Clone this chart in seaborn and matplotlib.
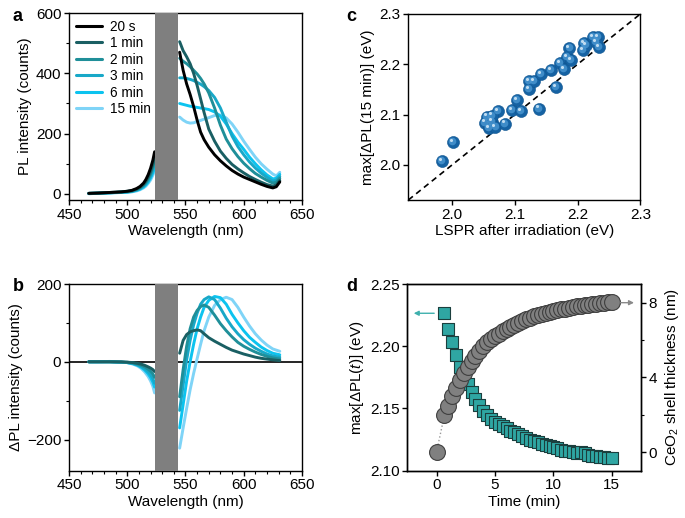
import numpy as np
import pandas as pd
import matplotlib
matplotlib.use("Agg")
import matplotlib.pyplot as plt
from matplotlib.transforms import ScaledTranslation
import seaborn as sns

sns.set_theme(style="ticks")
plt.rcParams['font.family'] = ['Liberation Sans', 'DejaVu Sans']
plt.rcParams['mathtext.fontset'] = 'custom'
plt.rcParams['mathtext.rm'] = 'Liberation Sans'
plt.rcParams['mathtext.it'] = 'Liberation Sans:italic'
plt.rcParams['axes.linewidth'] = 1.0
plt.rcParams['axes.edgecolor'] = 'black'
for k in ['text.color', 'axes.labelcolor', 'xtick.color', 'ytick.color']:
    plt.rcParams[k] = 'black'

# ---------------- data ----------------
time_labels = ["20 s", "1 min", "2 min", "3 min", "6 min", "15 min"]
line_colors = ["#000000", "#1a5f63", "#1f8f99", "#18a8c8", "#0cc3ef", "#7fd4f7"]

# panel a: PL spectra (left of the notch, right of the notch)
wl_a_left = [467, 475, 485, 495, 500, 504, 508, 511, 514, 516, 518, 520, 522, 523.5]
pl_left = {
    "20 s":   [2, 3, 5, 7, 9, 12, 18, 25, 36, 48, 64, 85, 112, 140],
    "1 min":  [2, 3, 5, 7, 9, 11, 16, 22, 32, 42, 56, 74, 98, 122],
    "2 min":  [2, 3, 4, 6, 8, 10, 15, 20, 29, 38, 50, 66, 88, 110],
    "3 min":  [2, 3, 4, 6, 7, 9, 13, 18, 26, 34, 45, 60, 80, 98],
    "6 min":  [1, 2, 4, 5, 6, 8, 12, 16, 23, 30, 40, 53, 70, 86],
    "15 min": [1, 2, 3, 5, 6, 7, 10, 14, 20, 26, 35, 46, 62, 76],
}
wl_a_right = [545, 548, 551, 554, 557, 560, 563, 566, 570, 575, 580, 585,
              590, 595, 600, 605, 610, 615, 620, 625, 628, 631]
pl_right = {
    "20 s":   [470, 410, 365, 330, 290, 245, 205, 180, 155, 130, 110, 93,
               78, 66, 56, 48, 40, 32, 25, 20, 24, 40],
    "1 min":  [505, 475, 455, 432, 400, 360, 315, 270, 215, 175, 142, 118,
               98, 83, 70, 58, 48, 39, 31, 26, 30, 45],
    "2 min":  [450, 440, 432, 422, 410, 398, 383, 365, 335, 285, 228, 182,
               150, 124, 102, 84, 68, 56, 45, 36, 39, 52],
    "3 min":  [385, 385, 383, 380, 376, 370, 364, 356, 343, 320, 285, 238,
               192, 157, 130, 106, 86, 69, 55, 43, 46, 58],
    "6 min":  [300, 297, 294, 291, 289, 287, 285, 283, 280, 272, 258, 232,
               200, 172, 148, 122, 100, 80, 63, 50, 52, 65],
    "15 min": [255, 245, 238, 235, 236, 240, 244, 248, 253, 260, 262, 252,
               232, 205, 175, 148, 122, 100, 82, 66, 60, 72],
}

# panel b: Delta PL spectra
diff_labels = ["1 min", "2 min", "3 min", "6 min", "15 min"]
wl_b_left = [467, 475, 485, 495, 500, 505, 509, 512, 515, 518, 520, 522, 523.5]
dpl_left = {
    "1 min":  [0, 0, 0, 0, -1, -2, -4, -6, -9, -13, -16, -20, -25],
    "2 min":  [0, 0, 0, -1, -1, -3, -6, -9, -13, -19, -24, -31, -40],
    "3 min":  [0, 0, 0, -1, -2, -4, -8, -12, -18, -26, -33, -43, -55],
    "6 min":  [0, 0, 0, -1, -2, -5, -9, -14, -21, -31, -40, -52, -65],
    "15 min": [0, 0, 1, -1, -2, -6, -11, -17, -26, -38, -49, -63, -80],
}
wl_b_right = [545, 548, 551, 554, 557, 560, 563, 566, 570, 575, 580, 585,
              590, 595, 600, 605, 610, 615, 620, 625, 631]
dpl_right = {
    "1 min":  [22, 55, 70, 77, 80, 82, 80, 72, 62, 53, 45, 37,
               30, 25, 20, 16, 12, 9, 7, 5, 3],
    "2 min":  [-90, -20, 40, 85, 115, 132, 142, 146, 140, 120, 98, 80,
               64, 50, 40, 32, 25, 19, 14, 10, 7],
    "3 min":  [-125, -60, 5, 55, 95, 125, 148, 160, 167, 160, 138, 112,
               90, 72, 57, 45, 35, 27, 20, 15, 12],
    "6 min":  [-170, -110, -50, 0, 45, 85, 115, 140, 158, 168, 165, 148,
               122, 100, 80, 63, 50, 38, 29, 22, 18],
    "15 min": [-222, -170, -120, -72, -30, 8, 45, 80, 115, 145, 160, 166,
               160, 140, 115, 92, 72, 56, 43, 33, 27],
}

# panel c: scatter
lspr = [1.984, 2.001, 2.053, 2.056, 2.058, 2.063, 2.069, 2.073, 2.084, 2.095,
        2.103, 2.110, 2.122, 2.123, 2.131, 2.138, 2.142, 2.158, 2.165, 2.172,
        2.179, 2.183, 2.187, 2.190, 2.208, 2.210, 2.213, 2.225, 2.233, 2.234,
        2.229, 2.064]
max_dpl15 = [2.007, 2.046, 2.084, 2.096, 2.074, 2.086, 2.076, 2.107, 2.082, 2.109,
             2.129, 2.107, 2.150, 2.167, 2.167, 2.112, 2.180, 2.188, 2.154, 2.203,
             2.190, 2.214, 2.233, 2.208, 2.228, 2.242, 2.238, 2.254, 2.254, 2.235,
             2.245, 2.098]

# panel d: kinetics
t_sq = [0.67, 1.0, 1.33, 1.67, 2.0, 2.33, 2.67, 3.0, 3.33, 3.67, 4.0, 4.33, 4.67,
        5.0, 5.33, 5.67, 6.0, 6.33, 6.67, 7.0, 7.33, 7.67, 8.0, 8.33, 8.67, 9.0,
        9.33, 9.67, 10.0, 10.33, 10.67, 11.0, 11.33, 11.67, 12.0, 12.33, 12.67,
        13.0, 13.33, 13.67, 14.0, 14.33, 14.67, 15.0]
max_dpl_t = [2.2264, 2.2138, 2.2037, 2.1929, 2.1836, 2.1765, 2.1696, 2.1630,
             2.1573, 2.1525, 2.1482, 2.1447, 2.1418, 2.1393, 2.1375, 2.1357,
             2.1340, 2.1323, 2.1308, 2.1295, 2.1280, 2.1265, 2.1250, 2.1240,
             2.1228, 2.1215, 2.1205, 2.1197, 2.1188, 2.1180, 2.1170, 2.1162,
             2.1155, 2.1148, 2.1140, 2.1150, 2.1142, 2.1128, 2.1122, 2.1117,
             2.1112, 2.1108, 2.1106, 2.1103]
t_circ = [0.0] + t_sq
shell_nm = [0.0, 1.96, 2.49, 3.0, 3.45, 3.86, 4.21, 4.57, 4.89, 5.16, 5.42, 5.67,
            5.87, 6.04, 6.2, 6.33, 6.47, 6.6, 6.7, 6.81, 6.92, 7.02, 7.11, 7.2,
            7.27, 7.34, 7.41, 7.46, 7.51, 7.56, 7.6, 7.64, 7.68, 7.72, 7.76, 7.8,
            7.83, 7.86, 7.89, 7.92, 7.95, 7.98, 8.0, 8.02, 8.04]

notch = (524, 544)


def long_df(wl, series, col):
    rows = []
    for lab, vals in series.items():
        for w, v in zip(wl, vals):
            rows.append({"wl": w, col: v, "time": lab})
    return pd.DataFrame(rows)


# ---------------- figure ----------------
fig = plt.figure(figsize=(6.85, 5.18), dpi=100)
ax_a = fig.add_axes([0.1007, 0.6139, 0.3401, 0.361])
ax_b = fig.add_axes([0.1007, 0.0913, 0.3401, 0.3604])
ax_c = fig.add_axes([0.5961, 0.6139, 0.3387, 0.3591])
ax_d = fig.add_axes([0.5946, 0.0913, 0.3412, 0.3604])

FS = 11
pal = dict(zip(time_labels, line_colors))
LW = 2.1


def style_axes(ax):
    for s in ax.spines.values():
        s.set_visible(True)
        s.set_color('black')
        s.set_linewidth(1.0)
    ax.tick_params(which='major', direction='out', length=3.5, width=1.0,
                   labelsize=FS, color='black', labelcolor='black', pad=2)
    ax.tick_params(which='minor', direction='out', length=2, width=0.8, color='black')


# panel a
dfa_l = long_df(wl_a_left, pl_left, "I")
dfa_r = long_df(wl_a_right, pl_right, "I")
sns.lineplot(data=dfa_l, x="wl", y="I", hue="time", hue_order=time_labels[::-1],
             palette=pal, lw=LW, ax=ax_a, legend=False, estimator=None)
sns.lineplot(data=dfa_r, x="wl", y="I", hue="time", hue_order=time_labels[::-1],
             palette=pal, lw=LW, ax=ax_a, legend=False, estimator=None)
ax_a.axvspan(*notch, color="#7f7f7f", lw=0, zorder=5)
ax_a.set_xlim(450, 650)
ax_a.set_ylim(-20, 600)
ax_a.set_xticks([450, 500, 550, 600, 650])
ax_a.set_xticks(np.arange(450, 651, 10), minor=True)
ax_a.set_yticks([0, 200, 400, 600])
ax_a.set_yticks([100, 300, 500], minor=True)
ax_a.set_xlabel("Wavelength (nm)", fontsize=FS, labelpad=2)
ax_a.set_ylabel("PL intensity (counts)", fontsize=FS, labelpad=3)
style_axes(ax_a)
handles = [plt.Line2D([], [], color=c, lw=2.2) for c in line_colors]
ax_a.legend(handles, time_labels, loc="upper left", frameon=False, fontsize=9.8,
            handlelength=1.95, handletextpad=0.6, labelspacing=0.18,
            borderaxespad=0.2, borderpad=0.3)

# panel b
dfb_l = long_df(wl_b_left, dpl_left, "dI")
dfb_r = long_df(wl_b_right, dpl_right, "dI")
ax_b.axhline(0, color="black", lw=1.2, zorder=1)
sns.lineplot(data=dfb_l, x="wl", y="dI", hue="time", hue_order=diff_labels[::-1],
             palette=pal, lw=LW, ax=ax_b, legend=False, estimator=None)
sns.lineplot(data=dfb_r, x="wl", y="dI", hue="time", hue_order=diff_labels[::-1],
             palette=pal, lw=LW, ax=ax_b, legend=False, estimator=None)
ax_b.axvspan(*notch, color="#7f7f7f", lw=0, zorder=5)
ax_b.set_xlim(450, 650)
ax_b.set_ylim(-280, 200)
ax_b.set_xticks([450, 500, 550, 600, 650])
ax_b.set_xticks(np.arange(450, 651, 10), minor=True)
ax_b.set_yticks([-200, 0, 200])
ax_b.set_yticks([-100, 100], minor=True)
ax_b.set_xlabel("Wavelength (nm)", fontsize=FS, labelpad=2)
ax_b.set_ylabel("ΔPL intensity (counts)", fontsize=FS, labelpad=3)
style_axes(ax_b)

# panel c
ax_c.plot([1.93, 2.3], [1.93, 2.3], ls=(0, (3.5, 2.5)), color="black", lw=1.2, zorder=1)
dfc = pd.DataFrame({"lspr": lspr, "pl": max_dpl15})
sns.scatterplot(data=dfc, x="lspr", y="pl", s=75, color="#1562a3", edgecolor="#0f5590",
                linewidth=0.4, ax=ax_c, zorder=3)
off1 = ax_c.transData + ScaledTranslation(-0.7 / 72, 0.7 / 72, fig.dpi_scale_trans)
ax_c.scatter(lspr, max_dpl15, s=30, color="#4a97d2", lw=0, alpha=0.8,
             transform=off1, zorder=4)
off2 = ax_c.transData + ScaledTranslation(-1.5 / 72, 1.5 / 72, fig.dpi_scale_trans)
ax_c.scatter(lspr, max_dpl15, s=5, color="#cfe6f6", lw=0, alpha=0.9,
             transform=off2, zorder=5)
ax_c.set_xlim(1.93, 2.3)
ax_c.set_ylim(1.93, 2.3)
ax_c.set_xticks([2.0, 2.1, 2.2, 2.3])
ax_c.set_yticks([2.0, 2.1, 2.2, 2.3])
ax_c.set_xlabel("LSPR after irradiation (eV)", fontsize=FS, labelpad=2)
ax_c.set_ylabel("max[ΔPL(15 min)] (eV)", fontsize=FS, labelpad=3)
style_axes(ax_c)

# panel d
dfd_sq = pd.DataFrame({"t": t_sq, "e": max_dpl_t})
dfd_c = pd.DataFrame({"t": t_circ, "d": shell_nm})
sns.scatterplot(data=dfd_sq, x="t", y="e", marker="s", s=70, color="#2fa6a3",
                edgecolor="#1b3f3e", linewidth=0.8, ax=ax_d, zorder=3)
ax_d.set_xlim(-2.5, 17.5)
ax_d.set_ylim(2.10, 2.25)
ax_d.set_xticks([0, 5, 10, 15])
ax_d.set_yticks([2.10, 2.15, 2.20, 2.25])
ax_d.set_yticklabels(["2.10", "2.15", "2.20", "2.25"])
ax_d.set_xlabel("Time (min)", fontsize=FS, labelpad=2)
ax_d.set_ylabel("max[ΔPL($t$)] (eV)", fontsize=FS, labelpad=3)
style_axes(ax_d)
ax_d.annotate("", xy=(-1.95, 2.2265), xytext=(-0.2, 2.2265),
              arrowprops=dict(arrowstyle="-|>", color="#3fb0ad", lw=1.0,
                              mutation_scale=7, shrinkA=0, shrinkB=0))

ax_d2 = ax_d.twinx()
sns.lineplot(data=dfd_c.iloc[:2], x="t", y="d", color="#9a9a9a", lw=1.0, ls=":",
             ax=ax_d2, legend=False, zorder=1)
sns.scatterplot(data=dfd_c, x="t", y="d", marker="o", s=130, color="#808080",
                edgecolor="#3f3f3f", linewidth=0.8, ax=ax_d2, zorder=3)
ax_d2.set_ylim(-1, 9)
ax_d2.set_yticks([0, 4, 8])
ax_d2.set_yticks([2, 6], minor=True)
ax_d2.set_ylabel("CeO$_2$ shell thickness (nm)", fontsize=FS, labelpad=4)
style_axes(ax_d2)
ax_d2.annotate("", xy=(16.9, 8.0), xytext=(15.75, 8.0),
               arrowprops=dict(arrowstyle="-|>", color="#8a8a8a", lw=1.0,
                               mutation_scale=7, shrinkA=0, shrinkB=0))
ax_d2.set_xlim(-2.5, 17.5)

# panel labels
for txt, x, y in [("a", 0.018, 0.985), ("b", 0.018, 0.463), ("c", 0.505, 0.985), ("d", 0.505, 0.463)]:
    fig.text(x, y, txt, fontsize=13, fontweight="bold", va="top", ha="left", color="black")

fig.savefig("out.png", dpi=100)
